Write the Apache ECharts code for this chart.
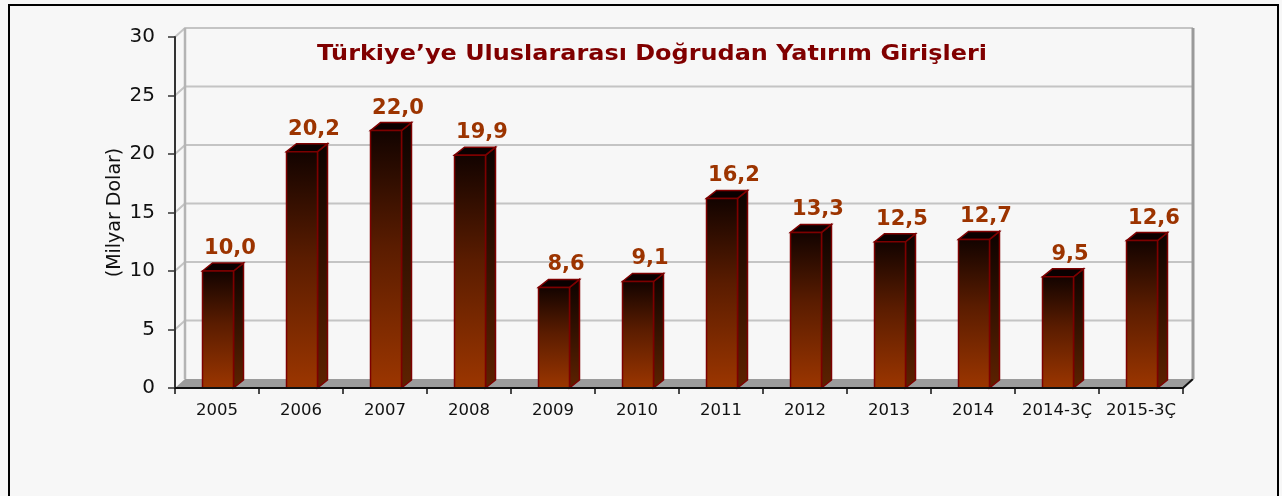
<!DOCTYPE html>
<html>
<head>
<meta charset="utf-8">
<title>Doğrudan Yatırım</title>
<script src="https://cdn.jsdelivr.net/npm/echarts@6/dist/echarts.min.js"></script>
<style>
  html, body { margin: 0; padding: 0; background: #f7f7f7; }
  #main { width: 1282px; height: 496px; }
</style>
</head>
<body>
<div id="main"></div>
<script type="text/javascript">
    // veriler
    var categories = ['2005', '2006', '2007', '2008', '2009', '2010', '2011', '2012', '2013', '2014', '2014-3Ç', '2015-3Ç'];
    var values = [10.0, 20.2, 22.0, 19.9, 8.6, 9.1, 16.2, 13.3, 12.5, 12.7, 9.5, 12.6];
    var yTicks = [0, 5, 10, 15, 20, 25, 30];

    var font = 'DejaVu Sans, Verdana, sans-serif';
    var DX = 10, DY = 9;      // duvar derinligi
    var BDX = 10, BDY = 8;    // cubuk derinligi

    var myChart = echarts.init(document.getElementById('main'));

    function fmt(v) {
        return v.toFixed(1).replace('.', ',');
    }

    // arka duvar ve zemin
    function renderWall(params, api) {
        var v = api.value(0);
        var p = api.coord([0, v]);
        var bw = api.size([1, 0])[0];
        var x0 = p[0] - bw / 2;
        var x1 = x0 + bw * categories.length;
        var y = p[1];
        var y0 = api.coord([0, 0])[1];
        var children = [];
        if (v === 0) {
            children.push({
                type: 'polygon',
                shape: { points: [[x0, y0], [x0 + DX, y0 - DY], [x1 + DX, y0 - DY], [x1, y0]] },
                style: { fill: '#9c9c9c', stroke: null }
            });
            children.push({
                type: 'line',
                shape: { x1: x1, y1: y0, x2: x1 + DX, y2: y0 - DY },
                style: { stroke: '#111', lineWidth: 2 }
            });
        } else {
            children.push({
                type: 'polyline',
                shape: { points: [[x0, y], [x0 + DX, y - DY], [x1 + DX, y - DY]] },
                style: { stroke: '#c4c4c4', lineWidth: 2, fill: null }
            });
        }
        if (v === yTicks[yTicks.length - 1]) {
            children.push({
                type: 'line',
                shape: { x1: x0 + DX, y1: y - DY, x2: x0 + DX, y2: y0 - DY },
                style: { stroke: '#b4b4b4', lineWidth: 2.5 }
            });
            children.push({
                type: 'line',
                shape: { x1: x1 + DX, y1: y - DY, x2: x1 + DX, y2: y0 - DY },
                style: { stroke: '#9a9a9a', lineWidth: 3 }
            });
        }
        return { type: 'group', children: children };
    }

    // 3 boyutlu cubuklar
    function renderBar(params, api) {
        var i = api.value(0), v = api.value(1);
        var top = api.coord([i, v]);
        var base = api.coord([i, 0]);
        var w = 31;
        var l = top[0] - w / 2 + 1, r = l + w;
        var t = top[1], b = base[1];
        var border = '#7d0000';
        return {
            type: 'group',
            children: [
                {
                    type: 'polygon',
                    shape: { points: [[r, t], [r + BDX, t - BDY], [r + BDX, b - BDY], [r, b]] },
                    style: {
                        fill: new echarts.graphic.LinearGradient(0, 0, 0, 1, [
                            { offset: 0, color: '#0c0200' },
                            { offset: 1, color: '#5e2200' }
                        ]),
                        stroke: border, lineWidth: 1.5
                    }
                },
                {
                    type: 'polygon',
                    shape: { points: [[l, t], [l + BDX, t - BDY], [r + BDX, t - BDY], [r, t]] },
                    style: { fill: '#0a0000', stroke: border, lineWidth: 1.5 }
                },
                {
                    type: 'rect',
                    shape: { x: l, y: t, width: w, height: b - t },
                    style: {
                        fill: new echarts.graphic.LinearGradient(0, 0, 0, 1, [
                            { offset: 0, color: '#120300' },
                            { offset: 0.45, color: '#5a1c00' },
                            { offset: 1, color: '#9c3600' }
                        ]),
                        stroke: border, lineWidth: 1.5
                    }
                },
                {
                    type: 'text',
                    style: {
                        x: (l + r) / 2 + 12, y: t - 12,
                        text: fmt(v),
                        fill: '#9c3400',
                        font: 'bold 21px ' + font,
                        align: 'center', verticalAlign: 'bottom'
                    }
                }
            ]
        };
    }

    var option = {
        backgroundColor: '#f7f7f7',
        animation: false,
        grid: { left: 175, right: 99, top: 37, bottom: 108 },
        graphic: [
            {
                type: 'rect',
                shape: { x: 9, y: 5, width: 1269, height: 500 },
                style: { fill: null, stroke: '#000', lineWidth: 2 },
                z: 100
            },
            {
                type: 'text',
                x: 652, y: 55,
                scaleX: 1.14,
                style: {
                    text: 'Türkiye’ye Uluslararası Doğrudan Yatırım Girişleri',
                    fill: '#800000',
                    font: 'bold 21px ' + font,
                    align: 'center', verticalAlign: 'middle'
                },
                z: 100
            }
        ],
        xAxis: {
            type: 'category',
            data: categories,
            z: 10,
            axisLine: { lineStyle: { color: '#111', width: 2 } },
            axisTick: { show: true, interval: 0, length: 6, lineStyle: { color: '#111', width: 1.5 } },
            axisLabel: { interval: 0, color: '#111', fontFamily: font, fontSize: 16.5, margin: 14 },
            splitLine: { show: false }
        },
        yAxis: {
            type: 'value',
            min: 0, max: 30, interval: 5,
            z: 10,
            name: '(Milyar Dolar)',
            nameLocation: 'middle',
            nameGap: 50,
            nameMoveOverlap: false,
            nameRotate: 90,
            nameTextStyle: { color: '#111', fontFamily: font, fontSize: 19 },
            axisLine: { show: true, lineStyle: { color: '#333', width: 2 } },
            axisTick: { show: true, length: 7, lineStyle: { color: '#333', width: 1.5 } },
            axisLabel: { color: '#111', fontFamily: font, fontSize: 20, margin: 20 },
            splitLine: { show: false }
        },
        series: [
            {
                name: 'duvar',
                type: 'custom',
                renderItem: renderWall,
                data: yTicks.map(function (t) { return [t]; }),
                encode: { y: 0 },
                clip: false,
                silent: true,
                z: 1
            },
            {
                name: 'Yatırım',
                type: 'custom',
                renderItem: renderBar,
                data: values.map(function (v, i) { return [i, v]; }),
                encode: { x: 0, y: 1 },
                clip: false,
                z: 5
            }
        ]
    };

    myChart.setOption(option);
</script>
</body>
</html>
